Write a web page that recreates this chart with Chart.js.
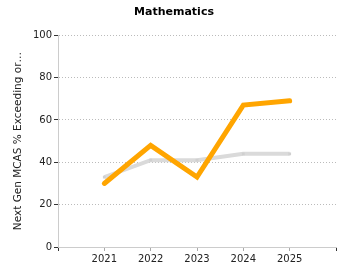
<!DOCTYPE html>
<html>
<head>
<meta charset="utf-8">
<script src="https://cdn.jsdelivr.net/npm/chart.js@4"></script>
<style>
  html, body { margin: 0; padding: 0; background: #fff; }
  #chart { display: block; }
</style>
</head>
<body>
<canvas id="chart" width="350" height="280"></canvas>
<script>
// years shown on the x axis, padded with an empty slot on each side
const years = ['2021', '2022', '2023', '2024', '2025'];
const schoolPct = [30, 48, 33, 67, 69];
const statePct = [33, 41, 41, 44, 44];
const yTicks = [0, 20, 40, 60, 80, 100];

const labels = ['', ...years, ''];
const pad = arr => [null, ...arr, null];

Chart.defaults.font.family = "'DejaVu Sans', Verdana, sans-serif";
Chart.defaults.font.size = 10;
Chart.defaults.color = '#222';

var options = {
    type: 'line',
    data: {
        labels: labels,
        datasets: [{
            label: 'School',
            data: pad(schoolPct),
            borderColor: '#FFA500',
            backgroundColor: '#FFA500',
            borderWidth: 5,
            pointRadius: 0,
            borderCapStyle: 'round',
            tension: 0,
            order: 1
        },
        {
            label: 'State',
            data: pad(statePct),
            borderColor: '#DADADA',
            backgroundColor: '#D0D0D0',
            borderWidth: 4,
            pointRadius: 2,
            pointStyle: 'rect',
            pointBorderWidth: 0,
            tension: 0,
            order: 2
        }]
    },
    options: {
        responsive: false,
        animation: false,
        layout: { padding: { left: 12, right: 14, top: 0, bottom: 0 } },
        plugins: {
            legend: { display: false },
            tooltip: { enabled: false },
            title: {
                display: true,
                text: 'Mathematics',
                color: '#000',
                font: { size: 11, weight: 'bold' },
                padding: { top: 6, bottom: 16 }
            }
        },
        scales: {
            x: {
                offset: false,
                grid: {
                    drawOnChartArea: false,
                    drawTicks: true,
                    tickLength: 4,
                    tickColor: ctx => (ctx.index === 0 || ctx.index === labels.length - 1) ? '#333' : '#aaa'
                },
                border: { color: '#ccc', width: 1 },
                ticks: { autoSkip: false, maxRotation: 0, padding: 2, color: '#222' },
                afterFit: s => { s.height = 33; }
            },
            y: {
                min: 0,
                max: 100,
                afterBuildTicks: s => { s.ticks = yTicks.map(v => ({ value: v })); },
                grid: {
                    color: '#bbb',
                    tickColor: '#333',
                    tickLength: 4,
                    tickBorderDash: []
                },
                border: { color: '#ccc', width: 1, dash: [1, 2] },
                ticks: { padding: 2, color: '#222' },
                title: {
                    display: true,
                    text: 'Next Gen MCAS % Exceeding or…',
                    color: '#222',
                    font: { size: 10.5 },
                    padding: { top: 0, bottom: 6 }
                },
                afterFit: s => { s.width = 46; }
            }
        }
    }
};

var ctx = document.getElementById('chart').getContext('2d');
new Chart(ctx, options);
</script>
</body>
</html>
